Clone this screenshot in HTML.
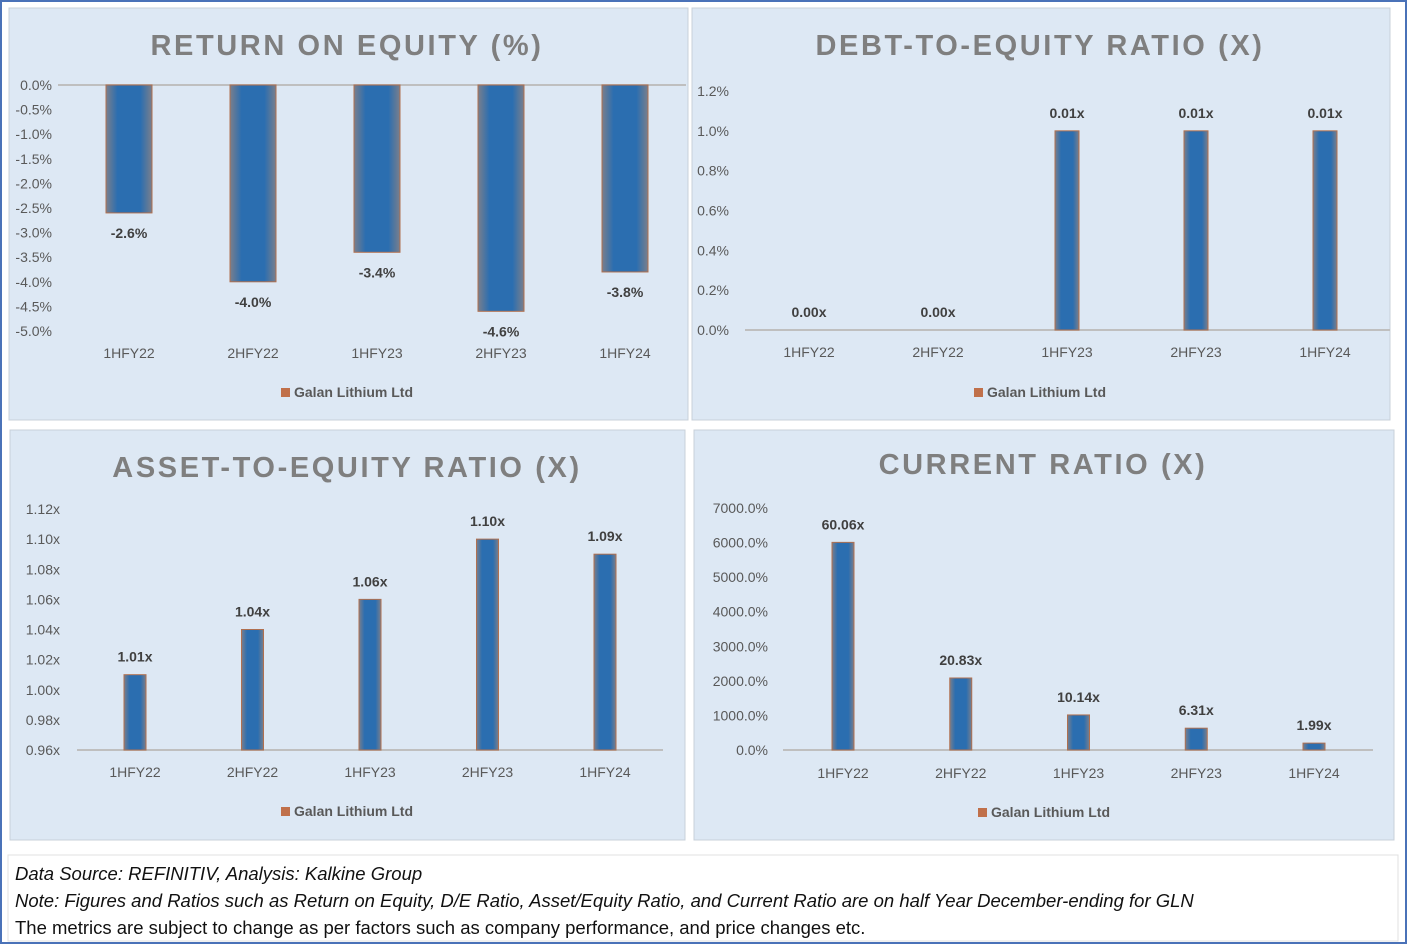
<!DOCTYPE html>
<html><head><meta charset="utf-8"><style>
body{margin:0;width:1407px;height:944px;background:#fff;overflow:hidden;font-family:"Liberation Sans",sans-serif}
svg{position:absolute;left:0;top:0}
.note{position:absolute;left:15px;font-size:18.5px;color:#111;white-space:nowrap}
</style></head><body>
<svg id="chart" width="1407" height="944">
<defs>
<linearGradient id="g" x1="0" x2="1" y1="0" y2="0">
<stop offset="0" stop-color="#7a7f8c"/><stop offset="0.25" stop-color="#2b6eb0"/><stop offset="0.75" stop-color="#2b6eb0"/><stop offset="1" stop-color="#7a7f8c"/>
</linearGradient>
</defs>
<rect x="1" y="1" width="1405" height="942" fill="none" stroke="#4a72b8" stroke-width="2"/>
</svg>
<div class="note" style="top:863px;font-style:italic">Data Source: REFINITIV, Analysis: Kalkine Group</div>
<div class="note" style="top:890px;font-style:italic">Note: Figures and Ratios such as Return on Equity, D/E Ratio, Asset/Equity Ratio, and Current Ratio are on half Year December-ending for GLN</div>
<div class="note" style="top:917px">The metrics are subject to change as per factors such as company performance, and price changes etc.</div>
<script>
const categories = ["1HFY22","2HFY22","1HFY23","2HFY23","1HFY24"];
const roeValues = [-2.6,-4.0,-3.4,-4.6,-3.8];
const roeLabels = ["-2.6%","-4.0%","-3.4%","-4.6%","-3.8%"];
const roeTicks = [0,-0.5,-1,-1.5,-2,-2.5,-3,-3.5,-4,-4.5,-5];
const deValues = [0,0,1,1,1];
const deLabels = ["0.00x","0.00x","0.01x","0.01x","0.01x"];
const deTicks = [0,0.2,0.4,0.6,0.8,1.0,1.2];
const aeValues = [1.01,1.04,1.06,1.10,1.09];
const aeLabels = ["1.01x","1.04x","1.06x","1.10x","1.09x"];
const aeTicks = [0.96,0.98,1.00,1.02,1.04,1.06,1.08,1.10,1.12];
const crValues = [6006,2083,1014,631,199];
const crLabels = ["60.06x","20.83x","10.14x","6.31x","1.99x"];
const crTicks = [0,1000,2000,3000,4000,5000,6000,7000];

const svg = document.getElementById('chart');
const NS = 'http://www.w3.org/2000/svg';
function mk(tag, attrs, parent, text){
  const e = document.createElementNS(NS, tag);
  for (const k in attrs) e.setAttribute(k, attrs[k]);
  if (text !== undefined) e.textContent = text;
  (parent||svg).appendChild(e);
  return e;
}
function panel(cfg){
  const g = mk('g', {});
  
  
  const bg = mk('rect', {x:cfg.box[0], y:cfg.box[1], width:cfg.box[2], height:cfg.box[3], fill:'#dde8f4', stroke:'#c8d0da', 'stroke-width':1}, g);
  
  
  const t = mk('text', {x:cfg.titleX, y:cfg.titleY, 'text-anchor':'middle', 'font-size':29, 'font-weight':'bold', fill:'#7f7f7f', 'letter-spacing':2.6}, g, cfg.title);
  
  
  const y = v => cfg.y0 + (v - cfg.v0) / (cfg.v1 - cfg.v0) * (cfg.y1 - cfg.y0);
  cfg.ticks.forEach(v => {
    const tl = mk('text', {x:cfg.tickX, y:y(v)+5, 'text-anchor':'end', 'font-size':14, fill:'#595959'}, g, cfg.tickFmt(v));
    
    
  });
  const base = y(cfg.base);
  const ax = mk('line', {x1:cfg.axis[0], x2:cfg.axis[1], y1:base, y2:base, stroke:'#bfbfbf', 'stroke-width':2}, g);
  
  
  categories.forEach((c, i) => {
    const cx = cfg.cx0 + i * cfg.step;
    const v = cfg.values[i];
    const yv = y(v);
    const top = Math.min(yv, base), h = Math.abs(yv - base);
    if (h > 0.5) {
      const b = mk('rect', {x:cx - cfg.bw/2, y:top, width:cfg.bw, height:h, fill:'url(#g)', stroke:'#b07050', 'stroke-width':1}, g);
      
      
    }
    const ly = cfg.neg ? yv + 25 : yv - 13;
    const l = mk('text', {x:cx, y:ly, 'text-anchor':'middle', 'font-size':14, 'font-weight':'bold', fill:'#404040'}, g, cfg.labels[i]);
    
    
    const cl = mk('text', {x:cx, y:cfg.catY, 'text-anchor':'middle', 'font-size':14, fill:'#595959'}, g, c);
    
    
  });
  const lg = mk('g', {}, g);
  
  
  mk('rect', {x:cfg.legX, y:cfg.legY-9, width:9, height:9, fill:'#c0704a'}, lg);
  mk('text', {x:cfg.legX+13, y:cfg.legY, 'font-size':14, 'font-weight':'bold', fill:'#595959'}, lg, 'Galan Lithium Ltd');
}
panel({name:'return-on-equity-chart', box:[9,8,679,412], title:'RETURN ON EQUITY (%)', titleX:347, titleY:55,
  values:roeValues, labels:roeLabels, ticks:roeTicks, tickFmt:v=>v.toFixed(1)+'%', tickX:52,
  v0:0, v1:-5, y0:85, y1:331, base:0, neg:true, axis:[58,686], cx0:129, step:124, bw:46, catY:358, legX:281, legY:397});
panel({name:'debt-to-equity-chart', box:[692,8,698,412], title:'DEBT-TO-EQUITY RATIO (X)', titleX:1040, titleY:55,
  values:deValues, labels:deLabels, ticks:deTicks, tickFmt:v=>v.toFixed(1)+'%', tickX:729,
  v0:0, v1:1.2, y0:330, y1:91, base:0, neg:false, axis:[745,1390], cx0:809, step:129, bw:24, catY:357, legX:974, legY:397});
panel({name:'asset-to-equity-chart', box:[10,430,675,410], title:'ASSET-TO-EQUITY RATIO (X)', titleX:347, titleY:477,
  values:aeValues, labels:aeLabels, ticks:aeTicks, tickFmt:v=>v.toFixed(2)+'x', tickX:60,
  v0:0.96, v1:1.12, y0:750, y1:509, base:0.96, neg:false, axis:[77,663], cx0:135, step:117.5, bw:22, catY:777, legX:281, legY:816});
panel({name:'current-ratio-chart', box:[694,430,700,410], title:'CURRENT RATIO (X)', titleX:1043, titleY:474,
  values:crValues, labels:crLabels, ticks:crTicks, tickFmt:v=>v.toFixed(1)+'%', tickX:768,
  v0:0, v1:7000, y0:750, y1:508, base:0, neg:false, axis:[783,1373], cx0:843, step:117.75, bw:22, catY:778, legX:978, legY:817});
const nb = mk('rect', {x:8, y:855, width:1390, height:86, fill:'none', stroke:'#e0e0e0', 'stroke-width':1});


</script>
</body></html>
